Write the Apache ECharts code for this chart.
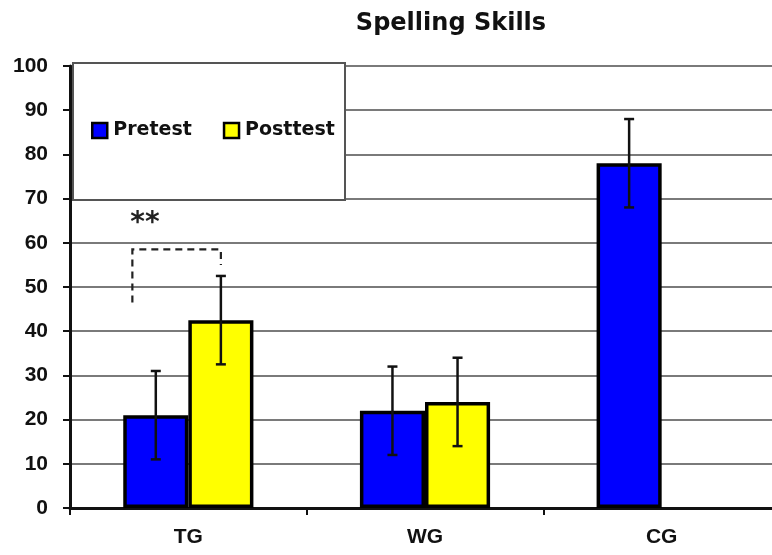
<!DOCTYPE html>
<html>
<head>
<meta charset="utf-8">
<script src="https://cdn.jsdelivr.net/npm/echarts@6/dist/echarts.min.js"></script>
<style>
  html, body { margin: 0; padding: 0; background: #ffffff; }
  #chart { width: 772px; height: 555px; }
</style>
</head>
<body>
<div id="chart"></div>
<script>
// Group labels and mean scores
const groups = ['TG', 'WG', 'CG'];
const pretest = [21, 22, 78];
const posttest = [42.5, 24, null];
// Half-length of each error bar
const pretestErr = [10, 10, 10];
const posttestErr = [10, 10, null];
// Y axis scale
const yMin = 0, yMax = 100, yStep = 10;
// Significance bracket over TG: left end, top, right end (score units)
const bracketLevels = [46.5, 58.5, 55];
const starLevel = 65;
const starText = '**';

const CAT_GAP = 0.45;

const chart = echarts.init(document.getElementById('chart'));

function errData(means, errs) {
  const out = [];
  means.forEach((m, i) => {
    if (m != null && errs[i] != null) out.push([i, m - errs[i], m + errs[i]]);
  });
  return out;
}

function errRenderer(side) {
  return function (params, api) {
    const idx = api.value(0);
    const band = api.size([1, 0])[0];
    const barW = band * (1 - CAT_GAP) / 2;
    const lo = api.coord([idx, api.value(1)]);
    const hi = api.coord([idx, api.value(2)]);
    const x = lo[0] + side * barW / 2;
    const cap = 5;
    const style = { stroke: '#111', lineWidth: 2.5 };
    return {
      type: 'group',
      children: [
        { type: 'line', shape: { x1: x, y1: lo[1], x2: x, y2: hi[1] }, style },
        { type: 'line', shape: { x1: x - cap, y1: hi[1], x2: x + cap, y2: hi[1] }, style },
        { type: 'line', shape: { x1: x - cap, y1: lo[1], x2: x + cap, y2: lo[1] }, style }
      ]
    };
  };
}

function bracketRenderer(params, api) {
  const idx = api.value(0);
  const band = api.size([1, 0])[0];
  const barW = band * (1 - CAT_GAP) / 2;
  const c = api.coord([idx, 0]);
  const xl = c[0] - barW + barW * 0.14;
  const xr = c[0] + barW / 2;
  const yl = api.coord([idx, api.value(1)])[1];
  const yt = api.coord([idx, api.value(2)])[1];
  const yr = api.coord([idx, api.value(3)])[1];
  const ys = api.coord([idx, api.value(4)])[1];
  return {
    type: 'group',
    children: [
      {
        type: 'polyline',
        shape: { points: [[xl, yl], [xl, yt], [xr, yt], [xr, yr]] },
        style: { stroke: '#222', lineWidth: 2.2, lineDash: [7, 5], fill: null }
      },
      {
        type: 'text',
        style: {
          x: xl - 2, y: ys + 3, text: starText,
          font: 'bold 28px "DejaVu Sans"', fill: '#222',
          textAlign: 'left', textVerticalAlign: 'middle'
        }
      }
    ]
  };
}

const option = {
  backgroundColor: '#ffffff',
  animation: false,
  title: {
    text: 'Spelling Skills',
    left: 446,
    top: 7,
    textAlign: 'center',
    textStyle: { fontFamily: 'DejaVu Sans', fontWeight: 'bold', fontSize: 24, color: '#111' }
  },
  grid: { left: 70, right: -8, top: 66, bottom: 47, outerBoundsMode: 'none', containLabel: false },
  graphic: [{
    type: 'rect',
    z: 10,
    shape: { x: 73, y: 63, width: 272, height: 137 },
    style: { fill: '#ffffff', stroke: '#555', lineWidth: 2 }
  }],
  legend: {
    z: 20,
    left: 91,
    top: 121,
    padding: 0,
    itemGap: 31,
    itemWidth: 15,
    itemHeight: 15,
    icon: 'rect',
    data: ['Pretest', 'Posttest'],
    itemStyle: { borderColor: '#000', borderWidth: 2.5 },
    textStyle: { fontFamily: 'DejaVu Sans', fontWeight: 'bold', fontSize: 19, color: '#111', padding: [0, 0, 0, 1] }
  },
  xAxis: {
    type: 'category',
    data: groups,
    axisLine: { lineStyle: { color: '#111', width: 3 } },
    axisTick: { show: true, length: 7, lineStyle: { color: '#111', width: 2 } },
    axisLabel: { margin: 19, fontFamily: 'Liberation Sans', fontWeight: 'bold', fontSize: 21, color: '#111' },
    splitLine: { show: false }
  },
  yAxis: {
    type: 'value',
    min: yMin, max: yMax, interval: yStep,
    axisLine: { show: true, lineStyle: { color: '#111', width: 3 } },
    axisTick: { show: true, length: 7, lineStyle: { color: '#111', width: 2 } },
    axisLabel: { margin: 22, fontFamily: 'Liberation Sans', fontWeight: 'bold', fontSize: 21, color: '#111' },
    splitLine: { show: true, lineStyle: { color: '#7a7a7a', width: 2 } }
  },
  series: [
    {
      name: 'Pretest',
      type: 'bar',
      data: pretest,
      barGap: '0%',
      barCategoryGap: (CAT_GAP * 100) + '%',
      itemStyle: { color: '#0000ff', borderColor: '#000', borderWidth: 3.5 }
    },
    {
      name: 'Posttest',
      type: 'bar',
      data: posttest,
      itemStyle: { color: '#ffff00', borderColor: '#000', borderWidth: 3.5 }
    },
    {
      type: 'custom',
      z: 5,
      silent: true,
      renderItem: errRenderer(-1),
      data: errData(pretest, pretestErr)
    },
    {
      type: 'custom',
      z: 5,
      silent: true,
      renderItem: errRenderer(1),
      data: errData(posttest, posttestErr)
    },
    {
      type: 'custom',
      z: 5,
      silent: true,
      renderItem: bracketRenderer,
      data: [[0, bracketLevels[0], bracketLevels[1], bracketLevels[2], starLevel]]
    }
  ]
};

chart.setOption(option);
</script>
</body>
</html>
